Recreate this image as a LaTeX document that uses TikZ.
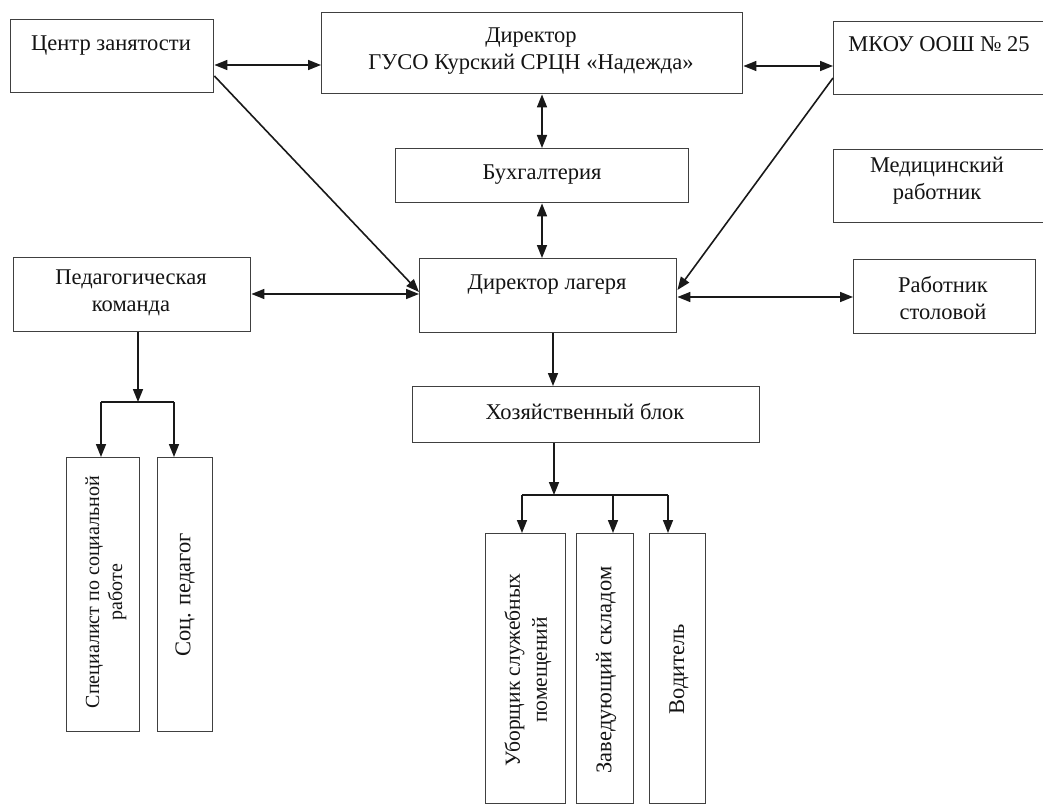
\documentclass[tikz,border=0pt]{standalone}
\usepackage{fontspec}
\setmainfont{Liberation Serif}
\usetikzlibrary{arrows.meta}
\begin{document}
\begin{tikzpicture}[x=1pt,y=-1pt,
  box/.style={draw=black!75, line width=1.4pt, inner sep=0pt, anchor=north west},
  txt/.style={inner sep=0pt, align=center, text=black!92, font=\fontsize{22.5}{27}\selectfont},
  smalltxt/.style={txt, font=\fontsize{20}{23}\selectfont},
  conn/.style={line width=1.6pt, draw=black!90},
  tip/.style={-{Triangle[length=13pt,width=10pt]}},
  dtip/.style={{Triangle[length=13pt,width=10pt]}-{Triangle[length=13pt,width=10pt]}}]
\useasboundingbox (0,0) rectangle (1043,805);
\clip (0,0) rectangle (1043,805);
\fill[white] (0,0) rectangle (1043,805);

% boxes
\node[box, minimum width=203pt, minimum height=73pt] (centr) at (10,19) {};
\node[box, minimum width=421pt, minimum height=81pt] (guso) at (321,12) {};
\node[box, minimum width=220pt, minimum height=73pt] (mkou) at (833,21) {};
\node[box, minimum width=293pt, minimum height=54pt] (buh) at (395,148) {};
\node[box, minimum width=220pt, minimum height=73pt] (med) at (833,149) {};
\node[box, minimum width=237pt, minimum height=74pt] (ped) at (13,257) {};
\node[box, minimum width=257pt, minimum height=74pt] (dl) at (419,258) {};
\node[box, minimum width=182pt, minimum height=74pt] (rab) at (853,259) {};
\node[box, minimum width=347pt, minimum height=56pt] (hoz) at (412,386) {};
\node[box, minimum width=73pt, minimum height=274pt] (spec) at (66,457) {};
\node[box, minimum width=55pt, minimum height=274pt] (soc) at (157,457) {};
\node[box, minimum width=80pt, minimum height=270pt] (ub) at (485,533) {};
\node[box, minimum width=57pt, minimum height=270pt] (zav) at (576,533) {};
\node[box, minimum width=56pt, minimum height=270pt] (vod) at (649,533) {};

% texts
\node[txt] (tcentr) at (111,46) {Центр занятости};
\node[txt] (tguso) at (531,51) {Директор\\ГУСО Курский СРЦН «Надежда»};
\node[txt] (tmkou) at (939,44) {МКОУ ООШ № 25};
\node[txt] (tbuh) at (542,175) {Бухгалтерия};
\node[txt] (tmed) at (937,181) {Медицинский\\работник};
\node[txt] (tped) at (131,293) {Педагогическая\\команда};
\node[txt] (tdl) at (547,285) {Директор лагеря};
\node[txt] (trab) at (943,298) {Работник\\столовой};
\node[txt] (thoz) at (585,412) {Хозяйственный блок};
\node[smalltxt, rotate=90] (tspec) at (106,592) {Специалист по социальной\\работе};
\node[txt, rotate=90] (tsoc) at (185,595) {Соц. педагог};
\node[txt, rotate=90, font=\fontsize{21.5}{27}\selectfont] (tub) at (528,670) {Уборщик служебных\\помещений};
\node[txt, rotate=90] (tzav) at (606,670) {Заведующий складом};
\node[txt, rotate=90] (tvod) at (679,669) {Водитель};

% connectors
\draw[conn, dtip] (centr.east |- 0,65) -- (guso.west |- 0,65);
\draw[conn, dtip] (guso.east |- 0,66) -- (mkou.west |- 0,66);
\draw[conn, dtip] (guso.south -| 542,0) -- (buh.north -| 542,0);
\draw[conn, dtip] (buh.south -| 542,0) -- (dl.north -| 542,0);
\draw[conn, tip] (centr.east |- 0,76) -- (dl.west |- 0,292);
\draw[conn, tip] (mkou.west |- 0,78) -- (dl.east |- 0,290);
\draw[conn, dtip] (ped.east |- 0,294) -- (dl.west |- 0,294);
\draw[conn, dtip] (dl.east |- 0,297) -- (rab.west |- 0,297);
\draw[conn, tip] (dl.south -| 553,0) -- (hoz.north -| 553,0);

\coordinate (bp) at (138,402);
\draw[conn, tip] (ped.south -| bp) -- (bp);
\coordinate (bpl) at (101,402);
\coordinate (bpr) at (174,402);
\draw[conn] (bpl) -- (bpr);
\draw[conn, tip] (bpl) -- (spec.north -| bpl);
\draw[conn, tip] (bpr) -- (soc.north -| bpr);

\coordinate (bh) at (554,495);
\draw[conn, tip] (hoz.south -| bh) -- (bh);
\coordinate (bh1) at (522,495);
\coordinate (bh2) at (613,495);
\coordinate (bh3) at (668,495);
\draw[conn] (bh1) -- (bh3);
\draw[conn, tip] (bh1) -- (ub.north -| bh1);
\draw[conn, tip] (bh2) -- (zav.north -| bh2);
\draw[conn, tip] (bh3) -- (vod.north -| bh3);
\end{tikzpicture}
\end{document}
